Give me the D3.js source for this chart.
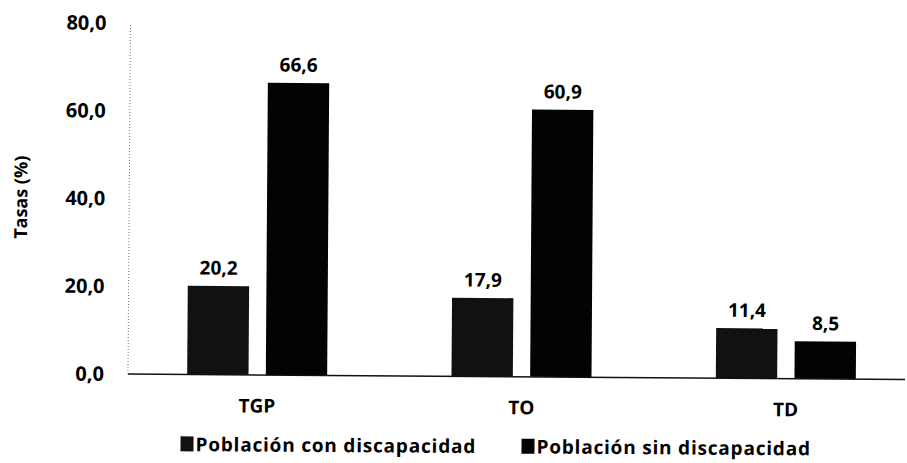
<!DOCTYPE html>
<html>
<head>
<meta charset="utf-8">
<script src="https://cdn.jsdelivr.net/npm/d3@7"></script>
<style>
  body { margin: 0; background: #fff; }
  text { font-family: "Open Sans", "DejaVu Sans", sans-serif; font-weight: bold; fill: #000; }
</style>
</head>
<body>
<div id="chart"></div>
<script>
// data
const categories = ["TGP", "TO", "TD"];
const seriesNames = ["Población con discapacidad", "Población sin discapacidad"];
const conDiscapacidad = [20.2, 17.9, 11.4];
const sinDiscapacidad = [66.6, 60.9, 8.5];
const yTicks = [0, 20, 40, 60, 80];

const width = 907, height = 463;
const fmt = v => d3.format(".1f")(v).replace(".", ",");

const svg = d3.select("#chart")
    .append("svg")
    .attr("width", width)
    .attr("height", height);

// the scan is a little tilted
let g = svg.append("g")
    .attr("transform", "rotate(0.4,128,374)");

const x0 = d3.scaleBand()
    .domain(categories)
    .range([125, 918]);

const x1 = d3.scaleBand()
    .domain(seriesNames)
    .range([0, 140])
    .paddingInner(0.22);

const y = d3.scaleLinear()
    .domain([0, 80])
    .range([374, 23]);

const colors = ["#111", "#030303"];

// y axis (dotted in the scan)
g.append("line")
    .attr("x1", 128).attr("x2", 128)
    .attr("y1", 25).attr("y2", y(0))
    .attr("stroke", "#777")
    .attr("stroke-dasharray", "1,2");

g.selectAll("text.ytick")
    .data(yTicks)
    .enter()
    .append("text")
    .attr("class", "ytick")
    .attr("x", 104)
    .attr("y", d => y(d))
    .attr("dy", "0.35em")
    .attr("text-anchor", "end")
    .style("font-size", "20px")
    .text(d => fmt(d));

g.append("text")
    .attr("transform", `translate(26,198) rotate(-90)`)
    .attr("text-anchor", "middle")
    .style("font-size", "18px")
    .text("Tasas (%)");

const rows = categories.map((c, i) => ({
    cat: c,
    vals: [conDiscapacidad[i], sinDiscapacidad[i]]
}));

const groups = g.selectAll("g.group")
    .data(rows)
    .enter()
    .append("g")
    .attr("class", "group")
    .attr("transform", d => `translate(${x0(d.cat) + x0.bandwidth() / 2 - 70},0)`);

groups.selectAll("rect")
    .data(d => d.vals.map((v, j) => ({ v: v, s: seriesNames[j], j: j })))
    .enter()
    .append("rect")
    .attr("x", d => x1(d.s))
    .attr("y", d => y(d.v))
    .attr("width", x1.bandwidth())
    .attr("height", d => y(0) - y(d.v))
    .attr("fill", d => colors[d.j]);

groups.selectAll("text.val")
    .data(d => d.vals.map((v, j) => ({ v: v, s: seriesNames[j] })))
    .enter()
    .append("text")
    .attr("class", "val")
    .attr("x", d => x1(d.s) + x1.bandwidth() / 2)
    .attr("y", d => y(d.v) - 18)
    .attr("dy", "0.35em")
    .attr("text-anchor", "middle")
    .style("font-size", "19px")
    .text(d => fmt(d.v));

// baseline
g.append("line")
    .attr("x1", 128).attr("x2", 905)
    .attr("y1", y(0)).attr("y2", y(0))
    .attr("stroke", "#111")
    .attr("stroke-width", 1.5);

g.selectAll("text.cat")
    .data(categories)
    .enter()
    .append("text")
    .attr("class", "cat")
    .attr("x", d => x0(d) + x0.bandwidth() / 2)
    .attr("y", 405)
    .attr("dy", "0.35em")
    .attr("text-anchor", "middle")
    .style("font-size", "19px")
    .text(d => d);

// legend
const legendX = [181, 522];
const legend = g.selectAll("g.legend")
    .data(seriesNames)
    .enter()
    .append("g")
    .attr("class", "legend")
    .attr("transform", (d, i) => `translate(${legendX[i]},444)`);

legend.append("rect")
    .attr("x", 0).attr("y", -8)
    .attr("width", 13).attr("height", 15)
    .attr("fill", (d, i) => colors[i]);

legend.append("text")
    .attr("x", 15)
    .attr("y", 0)
    .attr("dy", "0.35em")
    .style("font-size", "19px")
    .style("letter-spacing", "0.8px")
    .text(d => d);
</script>
</body>
</html>
